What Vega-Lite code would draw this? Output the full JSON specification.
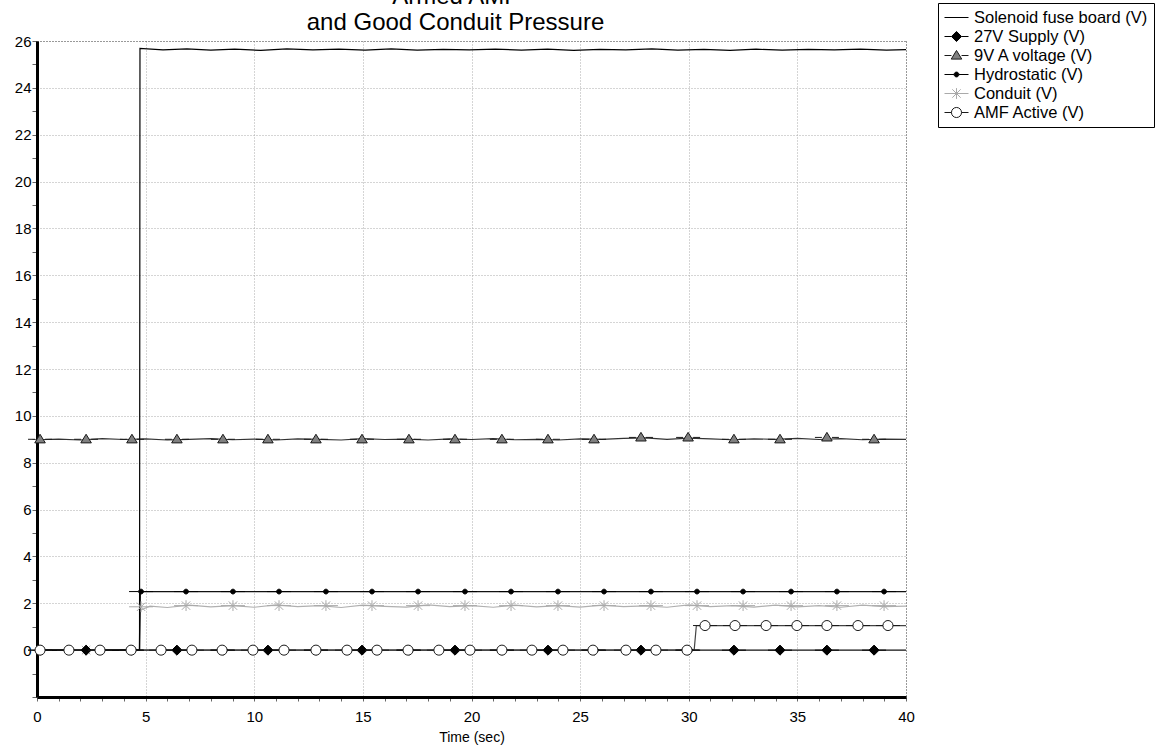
{
  "$schema": "https://vega.github.io/schema/vega-lite/v6.json",
  "width": 869,
  "height": 656,
  "autosize": {"type": "none"},
  "padding": {"left": 37, "top": 41, "right": 253, "bottom": 52},
  "background": "#ffffff",
  "config": {
    "view": {"stroke": null},
    "font": "Liberation Sans",
    "legend": {
      "orient": "none",
      "legendX": 901,
      "legendY": -38,
      "strokeColor": "#000000",
      "fillColor": "#ffffff",
      "padding": 6,
      "rowPadding": 2,
      "clipHeight": 17,
      "labelFont": "Liberation Sans",
      "labelFontSize": 16.5,
      "labelColor": "#000000",
      "labelOffset": 5,
      "labelLimit": 300,
      "symbolSize": 576,
      "symbolStrokeWidth": 1
    }
  },
  "datasets": {
    "lines": [
      {"s": "Conduit (V)", "t": 0, "v": 0},
      {"s": "Conduit (V)", "t": 4.7, "v": 0},
      {"s": "Conduit (V)", "t": 4.75, "v": 1.7},
      {"s": "Conduit (V)", "t": 5.2, "v": 1.88},
      {"s": "Conduit (V)", "t": 6, "v": 1.82},
      {"s": "Conduit (V)", "t": 7, "v": 1.92},
      {"s": "Conduit (V)", "t": 8, "v": 1.85},
      {"s": "Conduit (V)", "t": 9, "v": 1.9},
      {"s": "Conduit (V)", "t": 10, "v": 1.83},
      {"s": "Conduit (V)", "t": 11, "v": 1.93},
      {"s": "Conduit (V)", "t": 12, "v": 1.86},
      {"s": "Conduit (V)", "t": 13, "v": 1.9},
      {"s": "Conduit (V)", "t": 14, "v": 1.82},
      {"s": "Conduit (V)", "t": 15, "v": 1.92},
      {"s": "Conduit (V)", "t": 16, "v": 1.87},
      {"s": "Conduit (V)", "t": 17, "v": 1.84},
      {"s": "Conduit (V)", "t": 18, "v": 1.93},
      {"s": "Conduit (V)", "t": 19, "v": 1.86},
      {"s": "Conduit (V)", "t": 20, "v": 1.9},
      {"s": "Conduit (V)", "t": 21, "v": 1.83},
      {"s": "Conduit (V)", "t": 22, "v": 1.92},
      {"s": "Conduit (V)", "t": 23, "v": 1.85},
      {"s": "Conduit (V)", "t": 24, "v": 1.9},
      {"s": "Conduit (V)", "t": 25, "v": 1.84},
      {"s": "Conduit (V)", "t": 26, "v": 1.92},
      {"s": "Conduit (V)", "t": 27, "v": 1.86},
      {"s": "Conduit (V)", "t": 28, "v": 1.89},
      {"s": "Conduit (V)", "t": 29, "v": 1.83},
      {"s": "Conduit (V)", "t": 30, "v": 1.93},
      {"s": "Conduit (V)", "t": 31, "v": 1.86},
      {"s": "Conduit (V)", "t": 32, "v": 1.9},
      {"s": "Conduit (V)", "t": 33, "v": 1.84},
      {"s": "Conduit (V)", "t": 34, "v": 1.92},
      {"s": "Conduit (V)", "t": 35, "v": 1.85},
      {"s": "Conduit (V)", "t": 36, "v": 1.9},
      {"s": "Conduit (V)", "t": 37, "v": 1.83},
      {"s": "Conduit (V)", "t": 38, "v": 1.92},
      {"s": "Conduit (V)", "t": 39, "v": 1.86},
      {"s": "Conduit (V)", "t": 40, "v": 1.88},
      {"s": "27V Supply (V)", "t": 0, "v": 0},
      {"s": "27V Supply (V)", "t": 40, "v": 0},
      {"s": "AMF Active (V)", "t": 0, "v": 0},
      {"s": "AMF Active (V)", "t": 30.25, "v": 0},
      {"s": "AMF Active (V)", "t": 30.35, "v": 1.05},
      {"s": "AMF Active (V)", "t": 40, "v": 1.05},
      {"s": "Hydrostatic (V)", "t": 0, "v": 0},
      {"s": "Hydrostatic (V)", "t": 4.72, "v": 0},
      {"s": "Hydrostatic (V)", "t": 4.76, "v": 2.5},
      {"s": "Hydrostatic (V)", "t": 40, "v": 2.5},
      {"s": "9V A voltage (V)", "t": 0, "v": 8.98},
      {"s": "9V A voltage (V)", "t": 1, "v": 9.01},
      {"s": "9V A voltage (V)", "t": 2, "v": 8.97},
      {"s": "9V A voltage (V)", "t": 3, "v": 9.03},
      {"s": "9V A voltage (V)", "t": 4, "v": 8.99},
      {"s": "9V A voltage (V)", "t": 5, "v": 9.02},
      {"s": "9V A voltage (V)", "t": 6, "v": 8.97},
      {"s": "9V A voltage (V)", "t": 7, "v": 9.0},
      {"s": "9V A voltage (V)", "t": 8, "v": 9.03},
      {"s": "9V A voltage (V)", "t": 9, "v": 8.98},
      {"s": "9V A voltage (V)", "t": 10, "v": 9.01},
      {"s": "9V A voltage (V)", "t": 11, "v": 8.97},
      {"s": "9V A voltage (V)", "t": 12, "v": 9.02},
      {"s": "9V A voltage (V)", "t": 13, "v": 9.0},
      {"s": "9V A voltage (V)", "t": 14, "v": 8.97},
      {"s": "9V A voltage (V)", "t": 15, "v": 9.03},
      {"s": "9V A voltage (V)", "t": 16, "v": 8.99},
      {"s": "9V A voltage (V)", "t": 17, "v": 9.01},
      {"s": "9V A voltage (V)", "t": 18, "v": 8.97},
      {"s": "9V A voltage (V)", "t": 19, "v": 9.02},
      {"s": "9V A voltage (V)", "t": 20, "v": 8.99},
      {"s": "9V A voltage (V)", "t": 21, "v": 9.03},
      {"s": "9V A voltage (V)", "t": 22, "v": 8.98},
      {"s": "9V A voltage (V)", "t": 23, "v": 9.0},
      {"s": "9V A voltage (V)", "t": 24, "v": 8.97},
      {"s": "9V A voltage (V)", "t": 25, "v": 9.02},
      {"s": "9V A voltage (V)", "t": 26, "v": 9.0},
      {"s": "9V A voltage (V)", "t": 27, "v": 9.04},
      {"s": "9V A voltage (V)", "t": 28, "v": 9.06},
      {"s": "9V A voltage (V)", "t": 29, "v": 9.0},
      {"s": "9V A voltage (V)", "t": 30, "v": 9.05},
      {"s": "9V A voltage (V)", "t": 31, "v": 9.02},
      {"s": "9V A voltage (V)", "t": 32, "v": 8.98},
      {"s": "9V A voltage (V)", "t": 33, "v": 9.02},
      {"s": "9V A voltage (V)", "t": 34, "v": 9.0},
      {"s": "9V A voltage (V)", "t": 35, "v": 9.04},
      {"s": "9V A voltage (V)", "t": 36, "v": 8.99},
      {"s": "9V A voltage (V)", "t": 37, "v": 9.03},
      {"s": "9V A voltage (V)", "t": 38, "v": 8.98},
      {"s": "9V A voltage (V)", "t": 39, "v": 9.01},
      {"s": "9V A voltage (V)", "t": 40, "v": 9.0},
      {"s": "Solenoid fuse board (V)", "t": 0, "v": 0},
      {"s": "Solenoid fuse board (V)", "t": 4.72, "v": 0},
      {"s": "Solenoid fuse board (V)", "t": 4.74, "v": 25.68},
      {"s": "Solenoid fuse board (V)", "t": 5.8, "v": 25.62},
      {"s": "Solenoid fuse board (V)", "t": 6.9, "v": 25.66},
      {"s": "Solenoid fuse board (V)", "t": 8.0, "v": 25.61},
      {"s": "Solenoid fuse board (V)", "t": 9.1, "v": 25.65},
      {"s": "Solenoid fuse board (V)", "t": 10.3, "v": 25.6},
      {"s": "Solenoid fuse board (V)", "t": 11.5, "v": 25.66},
      {"s": "Solenoid fuse board (V)", "t": 12.7, "v": 25.62},
      {"s": "Solenoid fuse board (V)", "t": 13.9, "v": 25.65},
      {"s": "Solenoid fuse board (V)", "t": 15.1, "v": 25.61},
      {"s": "Solenoid fuse board (V)", "t": 16.3, "v": 25.66},
      {"s": "Solenoid fuse board (V)", "t": 17.5, "v": 25.61},
      {"s": "Solenoid fuse board (V)", "t": 18.7, "v": 25.64},
      {"s": "Solenoid fuse board (V)", "t": 19.9, "v": 25.62},
      {"s": "Solenoid fuse board (V)", "t": 21.1, "v": 25.65},
      {"s": "Solenoid fuse board (V)", "t": 22.3, "v": 25.61},
      {"s": "Solenoid fuse board (V)", "t": 23.5, "v": 25.65},
      {"s": "Solenoid fuse board (V)", "t": 24.7, "v": 25.6},
      {"s": "Solenoid fuse board (V)", "t": 25.9, "v": 25.64},
      {"s": "Solenoid fuse board (V)", "t": 27.1, "v": 25.62},
      {"s": "Solenoid fuse board (V)", "t": 28.3, "v": 25.66},
      {"s": "Solenoid fuse board (V)", "t": 29.5, "v": 25.61},
      {"s": "Solenoid fuse board (V)", "t": 30.7, "v": 25.64},
      {"s": "Solenoid fuse board (V)", "t": 31.9, "v": 25.6},
      {"s": "Solenoid fuse board (V)", "t": 33.1, "v": 25.65},
      {"s": "Solenoid fuse board (V)", "t": 34.3, "v": 25.61},
      {"s": "Solenoid fuse board (V)", "t": 35.5, "v": 25.64},
      {"s": "Solenoid fuse board (V)", "t": 36.7, "v": 25.62},
      {"s": "Solenoid fuse board (V)", "t": 37.9, "v": 25.65},
      {"s": "Solenoid fuse board (V)", "t": 39.1, "v": 25.61},
      {"s": "Solenoid fuse board (V)", "t": 40, "v": 25.63}
    ],
    "markers": [
      {"s": "Conduit (V)", "t": 2.26, "v": 0},
      {"s": "Conduit (V)", "t": 4.79, "v": 1.85},
      {"s": "Conduit (V)", "t": 6.86, "v": 1.9},
      {"s": "Conduit (V)", "t": 9.02, "v": 1.9},
      {"s": "Conduit (V)", "t": 11.14, "v": 1.9},
      {"s": "Conduit (V)", "t": 13.3, "v": 1.9},
      {"s": "Conduit (V)", "t": 15.42, "v": 1.9},
      {"s": "Conduit (V)", "t": 17.54, "v": 1.9},
      {"s": "Conduit (V)", "t": 19.7, "v": 1.9},
      {"s": "Conduit (V)", "t": 21.82, "v": 1.9},
      {"s": "Conduit (V)", "t": 23.98, "v": 1.9},
      {"s": "Conduit (V)", "t": 26.1, "v": 1.9},
      {"s": "Conduit (V)", "t": 28.26, "v": 1.9},
      {"s": "Conduit (V)", "t": 30.38, "v": 1.9},
      {"s": "Conduit (V)", "t": 32.5, "v": 1.9},
      {"s": "Conduit (V)", "t": 34.71, "v": 1.9},
      {"s": "Conduit (V)", "t": 36.82, "v": 1.9},
      {"s": "Conduit (V)", "t": 38.99, "v": 1.9},
      {"s": "27V Supply (V)", "t": 0.14, "v": 0},
      {"s": "27V Supply (V)", "t": 2.26, "v": 0},
      {"s": "27V Supply (V)", "t": 4.37, "v": 0},
      {"s": "27V Supply (V)", "t": 6.44, "v": 0},
      {"s": "27V Supply (V)", "t": 8.56, "v": 0},
      {"s": "27V Supply (V)", "t": 10.63, "v": 0},
      {"s": "27V Supply (V)", "t": 12.84, "v": 0},
      {"s": "27V Supply (V)", "t": 14.96, "v": 0},
      {"s": "27V Supply (V)", "t": 17.12, "v": 0},
      {"s": "27V Supply (V)", "t": 19.24, "v": 0},
      {"s": "27V Supply (V)", "t": 21.4, "v": 0},
      {"s": "27V Supply (V)", "t": 23.52, "v": 0},
      {"s": "27V Supply (V)", "t": 25.64, "v": 0},
      {"s": "27V Supply (V)", "t": 27.8, "v": 0},
      {"s": "27V Supply (V)", "t": 29.97, "v": 0},
      {"s": "27V Supply (V)", "t": 32.08, "v": 0},
      {"s": "27V Supply (V)", "t": 34.2, "v": 0},
      {"s": "27V Supply (V)", "t": 36.36, "v": 0},
      {"s": "27V Supply (V)", "t": 38.53, "v": 0},
      {"s": "9V A voltage (V)", "t": 0.14, "v": 9.0},
      {"s": "9V A voltage (V)", "t": 2.26, "v": 9.0},
      {"s": "9V A voltage (V)", "t": 4.37, "v": 9.0},
      {"s": "9V A voltage (V)", "t": 6.44, "v": 9.0},
      {"s": "9V A voltage (V)", "t": 8.56, "v": 9.0},
      {"s": "9V A voltage (V)", "t": 10.63, "v": 9.0},
      {"s": "9V A voltage (V)", "t": 12.84, "v": 9.0},
      {"s": "9V A voltage (V)", "t": 14.96, "v": 9.0},
      {"s": "9V A voltage (V)", "t": 17.12, "v": 9.0},
      {"s": "9V A voltage (V)", "t": 19.24, "v": 9.0},
      {"s": "9V A voltage (V)", "t": 21.4, "v": 9.0},
      {"s": "9V A voltage (V)", "t": 23.52, "v": 9.0},
      {"s": "9V A voltage (V)", "t": 25.64, "v": 9.0},
      {"s": "9V A voltage (V)", "t": 27.8, "v": 9.08},
      {"s": "9V A voltage (V)", "t": 29.97, "v": 9.08},
      {"s": "9V A voltage (V)", "t": 32.08, "v": 9.0},
      {"s": "9V A voltage (V)", "t": 34.2, "v": 9.0},
      {"s": "9V A voltage (V)", "t": 36.36, "v": 9.08},
      {"s": "9V A voltage (V)", "t": 38.53, "v": 9.0},
      {"s": "Hydrostatic (V)", "t": 4.79, "v": 2.5},
      {"s": "Hydrostatic (V)", "t": 6.86, "v": 2.5},
      {"s": "Hydrostatic (V)", "t": 9.02, "v": 2.5},
      {"s": "Hydrostatic (V)", "t": 11.14, "v": 2.5},
      {"s": "Hydrostatic (V)", "t": 13.3, "v": 2.5},
      {"s": "Hydrostatic (V)", "t": 15.42, "v": 2.5},
      {"s": "Hydrostatic (V)", "t": 17.54, "v": 2.5},
      {"s": "Hydrostatic (V)", "t": 19.7, "v": 2.5},
      {"s": "Hydrostatic (V)", "t": 21.82, "v": 2.5},
      {"s": "Hydrostatic (V)", "t": 23.98, "v": 2.5},
      {"s": "Hydrostatic (V)", "t": 26.1, "v": 2.5},
      {"s": "Hydrostatic (V)", "t": 28.26, "v": 2.5},
      {"s": "Hydrostatic (V)", "t": 30.38, "v": 2.5},
      {"s": "Hydrostatic (V)", "t": 32.5, "v": 2.5},
      {"s": "Hydrostatic (V)", "t": 34.71, "v": 2.5},
      {"s": "Hydrostatic (V)", "t": 36.82, "v": 2.5},
      {"s": "Hydrostatic (V)", "t": 38.99, "v": 2.5},
      {"s": "AMF Active (V)", "t": 0.14, "v": 0},
      {"s": "AMF Active (V)", "t": 1.47, "v": 0},
      {"s": "AMF Active (V)", "t": 2.9, "v": 0},
      {"s": "AMF Active (V)", "t": 4.33, "v": 0},
      {"s": "AMF Active (V)", "t": 5.71, "v": 0},
      {"s": "AMF Active (V)", "t": 7.13, "v": 0},
      {"s": "AMF Active (V)", "t": 8.52, "v": 0},
      {"s": "AMF Active (V)", "t": 9.94, "v": 0},
      {"s": "AMF Active (V)", "t": 11.37, "v": 0},
      {"s": "AMF Active (V)", "t": 12.84, "v": 0},
      {"s": "AMF Active (V)", "t": 14.27, "v": 0},
      {"s": "AMF Active (V)", "t": 15.65, "v": 0},
      {"s": "AMF Active (V)", "t": 17.08, "v": 0},
      {"s": "AMF Active (V)", "t": 18.5, "v": 0},
      {"s": "AMF Active (V)", "t": 19.93, "v": 0},
      {"s": "AMF Active (V)", "t": 21.4, "v": 0},
      {"s": "AMF Active (V)", "t": 22.78, "v": 0},
      {"s": "AMF Active (V)", "t": 24.21, "v": 0},
      {"s": "AMF Active (V)", "t": 25.59, "v": 0},
      {"s": "AMF Active (V)", "t": 27.11, "v": 0},
      {"s": "AMF Active (V)", "t": 28.49, "v": 0},
      {"s": "AMF Active (V)", "t": 29.92, "v": 0},
      {"s": "AMF Active (V)", "t": 30.75, "v": 1.05},
      {"s": "AMF Active (V)", "t": 32.13, "v": 1.05},
      {"s": "AMF Active (V)", "t": 33.56, "v": 1.05},
      {"s": "AMF Active (V)", "t": 34.98, "v": 1.05},
      {"s": "AMF Active (V)", "t": 36.36, "v": 1.05},
      {"s": "AMF Active (V)", "t": 37.79, "v": 1.05},
      {"s": "AMF Active (V)", "t": 39.17, "v": 1.05}
    ]
  },
  "encoding": {
    "x": {
      "field": "t",
      "type": "quantitative",
      "scale": {"domain": [0, 40], "nice": false, "zero": false},
      "axis": {
        "title": "Time (sec)",
        "titleFont": "Liberation Sans",
        "titleFontSize": 14,
        "titleFontWeight": "normal",
        "titleColor": "#000000",
        "titlePadding": 6,
        "values": [0,1,2,3,4,5,6,7,8,9,10,11,12,13,14,15,16,17,18,19,20,21,22,23,24,25,26,27,28,29,30,31,32,33,34,35,36,37,38,39,40],
        "labelExpr": "datum.value % 5 === 0 ? datum.label : ''",
        "labelFont": "Liberation Sans",
        "labelFontSize": 15,
        "labelColor": "#000000",
        "labelPadding": 8,
        "labelFlush": false,
        "labelOverlap": false,
        "tickSize": 4,
        "tickColor": "#666666",
        "domainColor": "#000000",
        "domainWidth": 3,
        "grid": true,
        "gridDash": [1, 2],
        "gridColor": {"condition": {"test": "datum.value === 40", "value": "#333333"}, "value": "#aaaaaa"},
        "gridOpacity": {"condition": {"test": "datum.value % 5 === 0", "value": 1}, "value": 0},
        "zindex": 0
      }
    },
    "y": {
      "field": "v",
      "type": "quantitative",
      "scale": {"domain": [-2, 26], "nice": false, "zero": false},
      "axis": {
        "title": ["Armed AMF", "and Good Conduit Pressure"],
        "titleFont": "Liberation Sans",
        "titleFontSize": 24,
        "titleFontWeight": "normal",
        "titleColor": "#000000",
        "titleAngle": 0,
        "titleAlign": "center",
        "titleBaseline": "alphabetic",
        "titleLineHeight": 26,
        "titleX": 418,
        "titleY": -38,
        "values": [-2,-1,0,1,2,3,4,5,6,7,8,9,10,11,12,13,14,15,16,17,18,19,20,21,22,23,24,25,26],
        "labelExpr": "datum.value >= 0 && datum.value % 2 === 0 ? datum.label : ''",
        "labelFont": "Liberation Sans",
        "labelFontSize": 15,
        "labelColor": "#000000",
        "labelPadding": 1,
        "labelFlush": false,
        "labelOverlap": false,
        "tickSize": 5,
        "tickColor": "#666666",
        "domainColor": "#000000",
        "domainWidth": 3,
        "grid": true,
        "gridDash": [1, 2],
        "gridColor": {"condition": {"test": "datum.value === 26", "value": "#333333"}, "value": "#aaaaaa"},
        "gridOpacity": {"condition": {"test": "datum.value >= 2 && datum.value % 2 === 0", "value": 1}, "value": 0},
        "zindex": 0
      }
    }
  },
  "layer": [
    {
      "data": {"name": "lines"},
      "mark": {"type": "line", "strokeWidth": 1.2, "interpolate": "linear"},
      "encoding": {
        "detail": {"field": "s", "type": "nominal"},
        "color": {
          "field": "s",
          "type": "nominal",
          "legend": null,
          "scale": {
            "domain": ["Conduit (V)", "27V Supply (V)", "AMF Active (V)", "Hydrostatic (V)", "9V A voltage (V)", "Solenoid fuse board (V)"],
            "range": ["#b0b0b0", "#111111", "#444444", "#111111", "#333333", "#000000"]
          }
        }
      }
    },
    {
      "data": {"name": "markers"},
      "mark": {"type": "point", "size": 576, "strokeWidth": 1, "opacity": 1},
      "encoding": {
        "shape": {
          "field": "s",
          "type": "nominal",
          "title": null,
          "scale": {
            "domain": ["Solenoid fuse board (V)", "27V Supply (V)", "9V A voltage (V)", "Hydrostatic (V)", "Conduit (V)", "AMF Active (V)"],
            "range": [
              "M-1,0H1",
              "M-1,0H-0.42M0.42,0H1M0,-0.42L0.42,0L0,0.42L-0.42,0Z",
              "M-1,0H-0.42M0.42,0H1M0,-0.42L0.44,0.3L-0.44,0.3Z",
              "M-1,0H-0.2M0.2,0H1M0.2,0A0.2,0.2,0,1,1,-0.2,0A0.2,0.2,0,1,1,0.2,0Z",
              "M-1,0H1M-0.35,-0.35L0.35,0.35M-0.35,0.35L0.35,-0.35M0,-0.45V0.45",
              "M-1,0H-0.42M0.42,0H1M0.42,0A0.42,0.42,0,1,1,-0.42,0A0.42,0.42,0,1,1,0.42,0Z"
            ]
          }
        },
        "fill": {
          "field": "s",
          "type": "nominal",
          "title": null,
          "scale": {
            "domain": ["Solenoid fuse board (V)", "27V Supply (V)", "9V A voltage (V)", "Hydrostatic (V)", "Conduit (V)", "AMF Active (V)"],
            "range": ["transparent", "#000000", "#808080", "#000000", "transparent", "#ffffff"]
          }
        },
        "stroke": {
          "field": "s",
          "type": "nominal",
          "title": null,
          "scale": {
            "domain": ["Solenoid fuse board (V)", "27V Supply (V)", "9V A voltage (V)", "Hydrostatic (V)", "Conduit (V)", "AMF Active (V)"],
            "range": ["#000000", "#000000", "#1a1a1a", "#000000", "#aaaaaa", "#1a1a1a"]
          }
        }
      }
    }
  ]
}
